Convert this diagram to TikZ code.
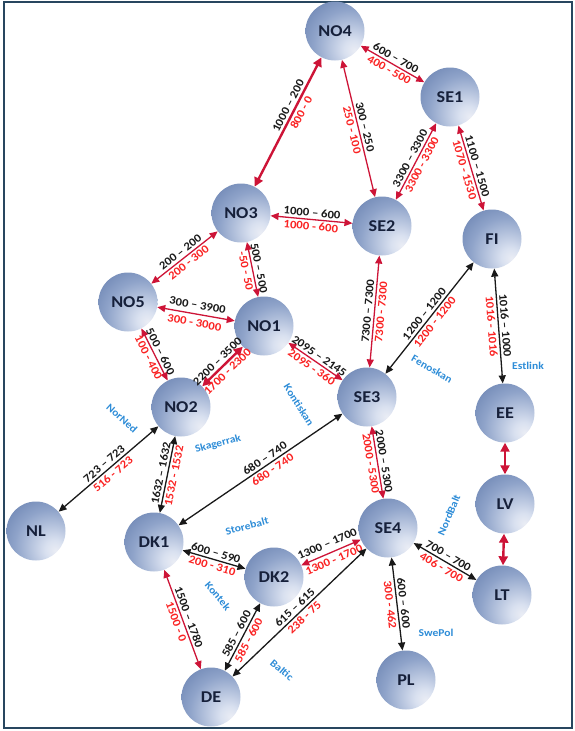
\documentclass[tikz,border=0pt]{standalone}
\usepackage{fontspec}
\setmainfont{Carlito}[FakeStretch=1.1]
\usetikzlibrary{arrows.meta}
\definecolor{lred}{RGB}{205,20,55}
\definecolor{tred}{RGB}{250,35,35}
\definecolor{lblk}{RGB}{25,25,25}
\definecolor{tblue}{RGB}{45,140,215}
\definecolor{navy}{RGB}{22,32,58}
\definecolor{framec}{RGB}{40,70,95}
\pgfdeclareradialshading{nodeball}{\pgfpoint{17bp}{-17bp}}{%
 rgb(0bp)=(0.92,0.93,0.96); rgb(8bp)=(0.85,0.88,0.94); rgb(30bp)=(0.56,0.64,0.79); rgb(50bp)=(0.38,0.48,0.67); rgb(72bp)=(0.28,0.39,0.60); rgb(100bp)=(0.28,0.39,0.60)}
\tikzset{
 zone/.style={circle, minimum size=59pt, inner sep=0pt, shade, shading=nodeball, text=navy, font=\bfseries\fontsize{16.5}{16.5}\selectfont},
 redln/.style={draw=lred, line width=1.3pt, >={Triangle[length=8pt,width=7pt]}, <->},
 blkln/.style={draw=lblk, line width=1.3pt, >={Triangle[length=8pt,width=7pt]}, <->},
 thkred/.style={draw=lred, line width=2.4pt, >={Triangle[length=9pt,width=9pt]}, <->},
 bl/.style={sloped, above, inner sep=2.2pt, text=lblk, font=\bfseries\fontsize{11.5}{11.5}\selectfont},
 rl/.style={sloped, below, inner sep=2.2pt, text=tred, font=\bfseries\fontsize{11.5}{11.5}\selectfont},
 cable/.style={text=tblue, font=\bfseries\fontsize{10.5}{10.5}\selectfont, inner sep=0pt}
}
\begin{document}
\begin{tikzpicture}[x=1pt,y=-1pt]
\useasboundingbox (0,0) rectangle (575,731);
\draw[framec, line width=2.5pt] (4,2) rectangle (572,728);
% nodes
\node[zone] (NO4) at (335,31) {NO4};
\node[zone] (SE1) at (450,97) {SE1};
\node[zone] (SE2) at (382,226) {SE2};
\node[zone] (FI) at (492,239) {FI};
\node[zone] (NO3) at (241,213) {NO3};
\node[zone] (NO5) at (128,302) {NO5};
\node[zone] (NO1) at (264,326) {NO1};
\node[zone] (NO2) at (181,407) {NO2};
\node[zone] (SE3) at (367,397) {SE3};
\node[zone] (EE) at (505,413) {EE};
\node[zone] (LV) at (505,504) {LV};
\node[zone] (LT) at (502,595) {LT};
\node[zone] (SE4) at (388,528) {SE4};
\node[zone] (NL) at (36,531) {NL};
\node[zone] (DK1) at (154,542) {DK1};
\node[zone] (DK2) at (274,577) {DK2};
\node[zone] (DE) at (211,697) {DE};
\node[zone] (PL) at (406,680) {PL};
% connectors
\draw[thkred] (NO3) -- node[bl,pos=.6]{1000 – 200} node[rl,pos=.6]{800 - 0} (NO4);
\draw[redln] (NO4) -- node[bl]{300 – 250} node[rl]{250 - 100} (SE2);
\draw[redln] (NO4) -- node[bl]{600 – 700} node[rl]{400 - 500} (SE1);
\draw[redln] (SE1) -- node[bl]{3300 – 3300} node[rl]{3300 - 3300} (SE2);
\draw[redln] (SE1) -- node[bl]{1100 – 1500} node[rl]{1070 - 1530} (FI);
\draw[redln] (NO3) -- node[bl]{1000 – 600} node[rl]{1000 - 600} (SE2);
\draw[redln] (NO3) -- node[bl]{200 – 200} node[rl]{200 - 300} (NO5);
\draw[redln] (NO3) -- node[bl]{500 – 500} node[rl]{-50 - 50} (NO1);
\draw[redln] (NO5) -- node[bl,inner sep=4.5pt]{300 – 3900} node[rl,inner sep=4.5pt]{300 - 3000} (NO1);
\draw[redln] (NO5) -- node[bl]{500 – 600} node[rl]{100 - 400} (NO2);
\draw[thkred] (NO2) -- node[bl]{2200 – 3500} node[rl]{1700 - 2300} (NO1);
\draw[redln] (NO1) -- node[bl]{2095 – 2145} node[rl]{2095 - 360} (SE3);
\draw[redln] (SE2) -- node[bl]{7300 – 7300} node[rl]{7300 - 7300} (SE3);
\draw[blkln] (FI) -- node[bl]{1200 – 1200} node[rl]{1200 - 1200} (SE3);
\draw[blkln] (FI) -- node[bl]{1016 – 1000} node[rl]{1016 - 1016} (EE);
\draw[thkred] (EE) -- (LV);
\draw[thkred] (LV) -- (LT);
\draw[blkln] (NO2) -- node[bl]{723 – 723} node[rl]{516 - 723} (NL);
\draw[blkln] (NO2) -- node[bl]{1632 – 1632} node[rl]{1532 - 1532} (DK1);
\draw[blkln] (DK1) -- node[bl,pos=.55]{680 – 740} node[rl,pos=.55]{680 - 740} (SE3);
\draw[redln] (SE3) -- node[bl]{2000 – 5300} node[rl]{2000 - 5300} (SE4);
\draw[blkln] (DK1) -- node[bl]{600 – 590} node[rl]{200 - 310} (DK2);
\draw[redln] (DK2) -- node[bl,inner sep=5pt]{1300 – 1700} node[rl,inner sep=3.5pt]{1300 - 1700} (SE4);
\draw[redln] (DK1) -- node[bl]{1500 – 1780} node[rl]{1500 - 0} (DE);
\draw[blkln] (DK2) -- node[bl]{585 – 600} node[rl]{585 - 600} (DE);
\draw[blkln] (DE) -- node[bl]{615 – 615} node[rl]{238 - 75} (SE4);
\draw[blkln] (SE4) -- node[bl]{700 – 700} node[rl]{406 - 700} (LT);
\draw[blkln] (SE4) -- node[bl]{600 – 600} node[rl]{300 - 462} (PL);
% cable names
\node[cable, rotate=-42] (cNorNed) at (122,418) {NorNed};
\node[cable, rotate=15] (cSkag) at (218,444) {Skagerrak};
\node[cable, rotate=-58] (cKonti) at (299,405) {Kontiskan};
\node[cable, rotate=-30] (cFeno) at (432,369) {Fenoskan};
\node[cable] (cEst) at (528,366) {Estlink};
\node[cable, rotate=15] (cStore) at (247,526) {Storebalt};
\node[cable, rotate=-50] (cKontek) at (218,596) {Kontek};
\node[cable, rotate=-40] (cBaltic) at (282,670) {Baltic};
\node[cable, rotate=67] (cNord) at (449,515) {NordBalt};
\node[cable] (cSwe) at (436,633) {SwePol};
\end{tikzpicture}
\end{document}
